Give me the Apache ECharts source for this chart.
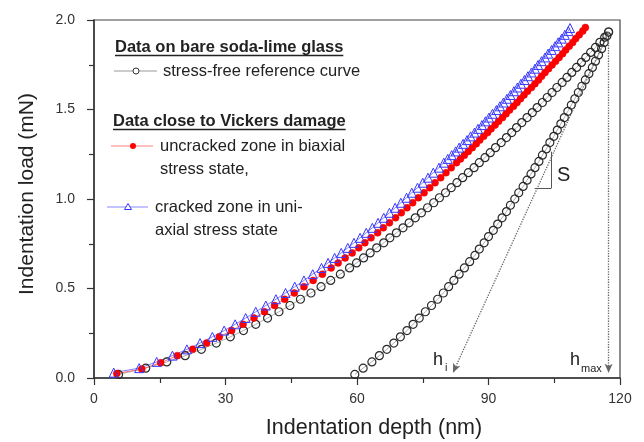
<!DOCTYPE html>
<html>
<head>
<meta charset="utf-8">
<script src="https://cdn.jsdelivr.net/npm/echarts@6/dist/echarts.min.js"></script>
<style>
  html, body { margin: 0; padding: 0; background: #fff; }
  #chart { width: 644px; height: 442px; }
</style>
</head>
<body>
<div id="chart"></div>
<script>
// depth (nm) / load (mN)
// stress-free reference, loading
var depthRefUp = [5.6, 11.8, 16.6, 20.8, 24.5, 27.9, 31.1, 34.1, 36.9, 39.6, 42.2, 44.7, 47.1, 49.5, 51.8, 54.0, 56.2, 58.3,
  59.9, 61.5, 63.0, 64.5, 66.1, 67.5, 69.0, 70.5, 71.9, 73.3, 74.7, 76.1, 77.5, 78.8, 80.2, 81.5, 82.8, 84.1, 85.4, 86.7, 87.9,
  89.2, 90.4, 91.6, 92.9, 94.1, 95.3, 96.4, 97.6, 98.8, 100.0, 101.1, 102.3, 103.4, 104.5, 105.6, 106.8, 107.9, 109.0, 110.1,
  111.2, 112.2, 113.3, 114.4, 115.4, 116.5, 117.4];
var loadRefUp = [0.02, 0.055, 0.09, 0.125, 0.16, 0.195, 0.23, 0.265, 0.30, 0.335, 0.37, 0.405, 0.44, 0.475, 0.51, 0.545, 0.58, 0.615,
  0.643, 0.671, 0.699, 0.727, 0.755, 0.783, 0.811, 0.839, 0.867, 0.895, 0.923, 0.951, 0.979, 1.007, 1.035, 1.063, 1.091, 1.119, 1.147, 1.175, 1.203,
  1.231, 1.259, 1.287, 1.315, 1.343, 1.371, 1.399, 1.427, 1.455, 1.483, 1.511, 1.539, 1.567, 1.595, 1.623, 1.651, 1.679, 1.707, 1.735,
  1.763, 1.791, 1.819, 1.847, 1.875, 1.903, 1.933];

// stress-free reference, unloading
var depthRefDown = [117.4, 117.0, 116.4, 115.8, 115.1, 114.4, 113.7, 112.9, 112.1, 111.3, 110.5, 109.7, 108.9, 108.1, 107.3, 106.5, 105.7, 104.9, 104.0, 103.2,
  102.3, 101.5, 100.6, 99.7, 98.8, 97.9, 96.9, 96.0, 95.0, 94.1, 93.1, 92.1, 91.1, 90.0, 89.0, 87.9, 86.9, 85.7, 84.5, 83.3,
  82.1, 80.9, 79.7, 78.4, 77.0, 75.6, 74.2, 72.8, 71.4, 69.9, 68.4, 66.8, 65.1, 63.4, 61.4, 59.5];
var loadRefDown = [1.933, 1.91, 1.875, 1.84, 1.805, 1.77, 1.735, 1.70, 1.665, 1.63, 1.595, 1.56, 1.525, 1.49, 1.455, 1.42, 1.385, 1.35, 1.315, 1.28,
  1.245, 1.21, 1.175, 1.14, 1.105, 1.07, 1.035, 1.00, 0.965, 0.93, 0.895, 0.86, 0.825, 0.79, 0.755, 0.72, 0.685, 0.65, 0.615, 0.58,
  0.545, 0.51, 0.475, 0.44, 0.405, 0.37, 0.335, 0.30, 0.265, 0.23, 0.195, 0.16, 0.125, 0.09, 0.055, 0.02];

// uncracked zone, biaxial stress
var depthBiaxial = [5.2, 10.9, 15.2, 19.0, 22.5, 25.7, 28.6, 31.4, 34.0, 36.5, 38.9, 41.2, 43.5, 45.7, 47.9, 50.0, 52.1, 54.1,
  55.7, 57.3, 58.9, 60.4, 61.8, 63.2, 64.7, 66.0, 67.4, 68.8, 70.1, 71.4, 72.7, 74.0, 75.3, 76.6, 77.8, 79.1, 80.3, 81.5, 82.7,
  83.6, 84.5, 85.4, 86.3, 87.2, 88.0, 88.9, 89.8, 90.6, 91.5, 92.3, 93.2, 94.0, 94.8, 95.7, 96.5, 97.3, 98.1, 98.9, 99.8,
  100.6, 101.4, 102.1, 102.9, 103.7, 104.5, 105.3, 106.1, 106.9, 107.6, 108.4, 109.2, 109.9, 110.7, 111.5, 112.1];
var loadBiaxial = [0.025, 0.05, 0.085, 0.125, 0.16, 0.195, 0.23, 0.265, 0.30, 0.335, 0.37, 0.405, 0.44, 0.475, 0.51, 0.545, 0.58, 0.615,
  0.643, 0.671, 0.699, 0.727, 0.755, 0.783, 0.811, 0.839, 0.867, 0.895, 0.923, 0.951, 0.979, 1.007, 1.035, 1.063, 1.091, 1.119, 1.147, 1.175, 1.203,
  1.224, 1.245, 1.266, 1.287, 1.308, 1.329, 1.350, 1.371, 1.392, 1.413, 1.434, 1.455, 1.476, 1.497, 1.518, 1.539, 1.560, 1.581, 1.602, 1.623,
  1.644, 1.665, 1.686, 1.707, 1.728, 1.749, 1.770, 1.791, 1.812, 1.833, 1.854, 1.875, 1.896, 1.917, 1.938, 1.958];

// cracked zone, uniaxial stress
var depthUniaxial = [4.5, 10.3, 14.3, 17.9, 21.2, 24.2, 27.0, 29.7, 32.2, 34.6, 36.9, 39.2, 41.5, 43.7, 45.8, 47.9, 49.9, 51.9,
  53.4, 54.9, 56.4, 57.9, 59.3, 60.7, 62.1, 63.5, 64.8, 66.1, 67.4, 68.7, 70.0, 71.3, 72.5, 73.8, 75.0, 76.2, 77.4, 78.7, 79.8,
  80.7, 81.6, 82.5, 83.3, 84.2, 85.1, 85.9, 86.8, 87.6, 88.5, 89.3, 90.1, 90.9, 91.8, 92.6, 93.4, 94.2, 95.0, 95.8, 96.6,
  97.4, 98.2, 99.0, 99.8, 100.6, 101.3, 102.1, 102.9, 103.6, 104.4, 105.2, 105.9, 106.7, 107.4, 108.2, 108.6];
var loadUniaxial = [0.03, 0.055, 0.09, 0.125, 0.16, 0.195, 0.23, 0.265, 0.30, 0.335, 0.37, 0.405, 0.44, 0.475, 0.51, 0.545, 0.58, 0.615,
  0.643, 0.671, 0.699, 0.727, 0.755, 0.783, 0.811, 0.839, 0.867, 0.895, 0.923, 0.951, 0.979, 1.007, 1.035, 1.063, 1.091, 1.119, 1.147, 1.175, 1.203,
  1.224, 1.245, 1.266, 1.287, 1.308, 1.329, 1.350, 1.371, 1.392, 1.413, 1.434, 1.455, 1.476, 1.497, 1.518, 1.539, 1.560, 1.581, 1.602, 1.623,
  1.644, 1.665, 1.686, 1.707, 1.728, 1.749, 1.770, 1.791, 1.812, 1.833, 1.854, 1.875, 1.896, 1.917, 1.938, 1.955];

var xTicks = [0, 30, 60, 90, 120];
var yTicks = [0.0, 0.5, 1.0, 1.5, 2.0];

// h_i, h_max and the slope S marks (depth, load)
var hI = 81.9, hMax = 117.4, pMax = 1.933;
var slopeMark = [[100.5, 1.06], [104.3, 1.06], [104.3, 1.264]];

var FONT = '"Liberation Sans", Arial, sans-serif';
var TXT = '#222';

function pairs(xs, ys) {
  var out = [];
  xs.forEach(function (x, i) { out.push([x, ys[i]]); });
  return out;
}

function textWidth(str, font) {
  var ctx = document.createElement('canvas').getContext('2d');
  ctx.font = font;
  return ctx.measureText(str).width;
}

var myChart = echarts.init(document.getElementById('chart'), null, { renderer: 'canvas' });

var legendFont = '16.5px ' + FONT;
var headFont = 'bold 16.5px ' + FONT;
var head1 = 'Data on bare soda-lime glass';
var head2 = 'Data close to Vickers damage';

function txt(str, x, y, font) {
  return {
    type: 'text', x: x, y: y, silent: true,
    style: { text: str, font: font || legendFont, fill: TXT, align: 'left', verticalAlign: 'middle',
      textAlign: 'left', textVerticalAlign: 'middle' }
  };
}
function seg(x1, y1, x2, y2, color, w) {
  return { type: 'line', silent: true, shape: { x1: x1, y1: y1, x2: x2, y2: y2 },
    style: { stroke: color, lineWidth: w || 1 } };
}

var dotted = { type: 'dotted', color: '#666', width: 1.3 };

var option = {
  animation: false,
  backgroundColor: '#fff',
  grid: {
    left: 94, right: 24, top: 20, bottom: 64,
    show: true, borderColor: '#444', borderWidth: 1.2, backgroundColor: 'transparent',
    outerBoundsMode: 'none'
  },
  xAxis: {
    type: 'value', min: 0, max: 120, interval: 30,
    name: 'Indentation depth (nm)', nameLocation: 'middle', nameGap: 39,
    nameTextStyle: { fontFamily: FONT, fontSize: 21.5, color: TXT, padding: [0, 0, 0, 34] },
    axisLine: { show: true, onZero: false, lineStyle: { color: '#333', width: 1.5 } },
    axisTick: { show: true, length: 7, lineStyle: { color: '#333', width: 1.2 } },
    minorTick: { show: true, splitNumber: 2, length: 5, lineStyle: { color: '#333', width: 1.2 } },
    splitLine: { show: false },
    axisLabel: { margin: 14, fontFamily: FONT, fontSize: 14, color: '#333',
      formatter: function (v) { return xTicks.indexOf(v) >= 0 ? String(v) : ''; } }
  },
  yAxis: {
    type: 'value', min: 0, max: 2, interval: 0.5,
    name: 'Indentation load (mN)', nameLocation: 'middle', nameGap: 56,
    nameTextStyle: { fontFamily: FONT, fontSize: 21, color: TXT, padding: [0, 0, 0, 10] },
    axisLine: { show: true, onZero: false, lineStyle: { color: '#333', width: 1.5 } },
    axisTick: { show: true, length: 7, lineStyle: { color: '#333', width: 1.2 } },
    minorTick: { show: true, splitNumber: 2, length: 5, lineStyle: { color: '#333', width: 1.2 } },
    splitLine: { show: false },
    axisLabel: { margin: 19, fontFamily: FONT, fontSize: 14, color: '#333',
      formatter: function (v) { return yTicks.indexOf(v) >= 0 ? v.toFixed(1) : ''; } }
  },
  series: [
    {
      name: 'stress-free reference curve', type: 'line',
      data: pairs(depthRefUp, loadRefUp),
      symbol: 'circle', symbolSize: 8,
      itemStyle: { color: 'rgba(0,0,0,0)', borderColor: '#2a2a2a', borderWidth: 1.2 },
      lineStyle: { color: '#999', width: 0.8 }
    },
    {
      name: 'stress-free reference unloading', type: 'line',
      data: pairs(depthRefDown, loadRefDown),
      symbol: 'circle', symbolSize: 8,
      itemStyle: { color: 'rgba(0,0,0,0)', borderColor: '#2a2a2a', borderWidth: 1.2 },
      lineStyle: { color: '#999', width: 0.8 },
      markLine: {
        silent: true, symbol: ['none', 'none'], label: { show: false },
        data: [
          [{ coord: [hMax, pMax], symbol: 'none', lineStyle: dotted },
           { coord: [hMax, 0.03], symbol: 'arrow', symbolSize: [6, 9] }],
          [{ coord: [hMax, pMax], symbol: 'none', lineStyle: dotted },
           { coord: [hI, 0.03], symbol: 'arrow', symbolSize: [6, 9] }],
          [{ coord: slopeMark[0], symbol: 'none', lineStyle: { type: 'solid', color: '#555', width: 1 } },
           { coord: slopeMark[1], symbol: 'none' }],
          [{ coord: slopeMark[1], symbol: 'none', lineStyle: { type: 'solid', color: '#555', width: 1 } },
           { coord: slopeMark[2], symbol: 'none' }]
        ]
      }
    },
    {
      name: 'uncracked zone in biaxial stress state,', type: 'line',
      data: pairs(depthBiaxial, loadBiaxial),
      symbol: 'circle', symbolSize: 7,
      itemStyle: { color: '#ff0000', borderColor: '#ee0000', borderWidth: 0.5 },
      lineStyle: { color: '#ff7070', width: 1 }
    },
    {
      name: 'cracked zone in uni-axial stress state', type: 'line',
      data: pairs(depthUniaxial, loadUniaxial),
      symbol: 'triangle', symbolSize: 9,
      itemStyle: { color: 'rgba(0,0,0,0)', borderColor: '#3838ff', borderWidth: 1 },
      lineStyle: { color: '#8080ff', width: 1 }
    }
  ],
  graphic: [
    txt(head1, 115, 47, headFont),
    seg(115, 55.5, 115 + textWidth(head1, headFont), 55.5, TXT, 1.3),
    seg(114, 71, 157, 71, '#999', 1),
    { type: 'circle', silent: true, shape: { cx: 136, cy: 71, r: 3 }, style: { fill: '#fff', stroke: '#333', lineWidth: 1 } },
    txt('stress-free reference curve', 163, 71),

    txt(head2, 113, 121, headFont),
    seg(113, 129.5, 113 + textWidth(head2, headFont), 129.5, TXT, 1.3),
    seg(111, 146, 153, 146, '#ff8080', 1),
    { type: 'circle', silent: true, shape: { cx: 133, cy: 146, r: 3 }, style: { fill: '#ff0000' } },
    txt('uncracked zone in biaxial', 160, 146),
    txt('stress state,', 160, 169),

    seg(107, 207, 148, 207, '#8888ff', 1),
    { type: 'polygon', silent: true, shape: { points: [[128, 203.5], [131.5, 209.5], [124.5, 209.5]] },
      style: { fill: '#fff', stroke: '#3838ff', lineWidth: 1 } },
    txt('cracked zone in uni-', 155, 207),
    txt('axial stress state', 155, 230),

    txt('S', 557, 175, '20px ' + FONT),
    txt('h', 433, 360, '18px ' + FONT),
    txt('i', 445, 368, '11px ' + FONT),
    txt('h', 570, 360, '18px ' + FONT),
    txt('max', 581, 369, '11px ' + FONT)
  ]
};

myChart.setOption(option);
</script>
</body>
</html>
